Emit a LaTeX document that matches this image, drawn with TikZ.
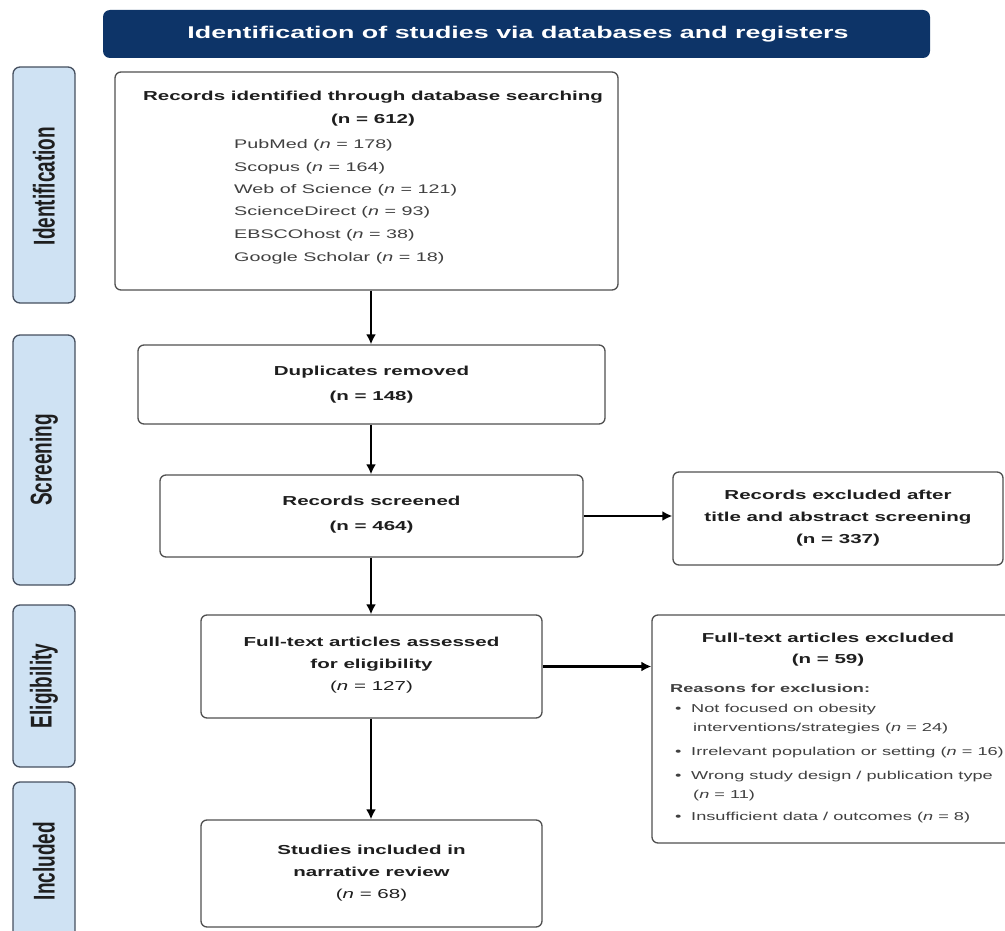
\documentclass[tikz,border=0pt]{standalone}
\usepackage{fontspec}
\setmainfont{Liberation Sans}[FakeStretch=1.58]
\newfontfamily\plainfont{Liberation Sans}
\usetikzlibrary{arrows.meta}
\definecolor{navy}{HTML}{0D3468}
\definecolor{sidefill}{HTML}{CFE2F3}
\definecolor{sideline}{HTML}{46505F}
\definecolor{boxline}{HTML}{505050}
\definecolor{txt}{HTML}{1E1E1E}
\tikzset{
  box/.style={draw=boxline, line width=1.3pt, rounded corners=6pt, fill=white, inner sep=0pt},
  side/.style={draw=sideline, line width=1.3pt, rounded corners=7pt, fill=sidefill, inner sep=0pt},
  sidetext/.style={text=txt, rotate=90, inner sep=0pt, font=\plainfont\bfseries\fontsize{19}{19}\selectfont},
  head/.style={fill=navy, rounded corners=7pt, inner sep=0pt},
  ttl/.style={text=txt, align=center, inner sep=0pt, font=\bfseries\fontsize{13}{25}\selectfont},
  ttlb/.style={text=txt, align=center, inner sep=0pt, font=\bfseries\fontsize{13}{22}\selectfont},
  lst/.style={text=txt!85, anchor=west, inner sep=0pt, font=\fontsize{12.5}{14}\selectfont},
  rsn/.style={text=txt!85, anchor=west, inner sep=0pt, font=\fontsize{11.5}{13}\selectfont},
  arr/.style={line width=2.4pt, -{Latex[length=10pt,width=10pt]}}
}
\newcommand{\sidelab}[1]{\scalebox{1}[1.58]{#1}}
\begin{document}
\begin{tikzpicture}[x=1pt,y=-1pt]
\useasboundingbox (0,0) rectangle (1005,931);
% header
\node[head, minimum width=827pt, minimum height=48pt] (hdr) at (516.5,34) {};
\node[text=white, inner sep=0pt, font=\bfseries\fontsize{17}{17}\selectfont] (hdrt) at (518,34) {Identification of studies via databases and registers};
% side labels
\node[side, minimum width=62pt, minimum height=236pt] (sid) at (44,185) {};
\node[sidetext] (sidt) at (44,186) {\sidelab{Identification}};
\node[side, minimum width=62pt, minimum height=250pt] (ssc) at (44,460) {};
\node[sidetext] (ssct) at (44,460) {\sidelab{Screening}};
\node[side, minimum width=62pt, minimum height=162pt] (sel) at (44,686) {};
\node[sidetext] (selt) at (44,686) {\sidelab{Eligibility}};
\node[side, minimum width=62pt, minimum height=170pt] (sin) at (44,867) {};
\node[sidetext] (sint) at (44,861) {\sidelab{Included}};
% box 1
\node[box, minimum width=503pt, minimum height=218pt] (b1) at (366.5,181) {};
\node[ttl] (b1t) at (373,97) {Records identified through database searching};
\node[ttl] (b1n) at (373,120) {(n = 612)};
\node[lst] (l1) at (234,145) {PubMed (\textit{n} = 178)};
\node[lst] (l2) at (234,168) {Scopus (\textit{n} = 164)};
\node[lst] (l3) at (234,190) {Web of Science (\textit{n} = 121)};
\node[lst] (l4) at (234,212) {ScienceDirect (\textit{n} = 93)};
\node[lst] (l5) at (234,235) {EBSCOhost (\textit{n} = 38)};
\node[lst] (l6) at (234,258) {Google Scholar (\textit{n} = 18)};
% duplicates
\node[box, minimum width=467pt, minimum height=79pt] (dup) at (371.5,384.5) {};
\node[ttl] (dupt) at (371.5,384.5) {Duplicates removed\\(n = 148)};
% screened
\node[box, minimum width=423pt, minimum height=82pt] (scr) at (371.5,516) {};
\node[ttl] (scrt) at (371.5,514.5) {Records screened\\(n = 464)};
% excluded
\node[box, minimum width=330pt, minimum height=93pt] (exc) at (838,518.5) {};
\node[ttlb] (exct) at (838,518) {Records excluded after\\title and abstract screening\\(n = 337)};
% full-text assessed
\node[box, minimum width=341pt, minimum height=103pt] (fta) at (371.5,666.5) {};
\node[ttlb] (ftat) at (371.5,665) {Full-text articles assessed\\for eligibility\\{\mdseries(\textit{n} = 127)}};
% included
\node[box, minimum width=341pt, minimum height=107pt] (inc) at (371.5,873.5) {};
\node[ttlb] (inct) at (371.5,873) {Studies included in\\narrative review\\{\mdseries(\textit{n} = 68)}};
% full-text excluded
\node[box, minimum width=365pt, minimum height=228pt] (fte) at (834.5,729) {};
\node[ttl] (ftet) at (828,638) {Full-text articles excluded};
\node[ttl] (ften) at (828,660) {(n = 59)};
\node[rsn, font=\bfseries\fontsize{11.5}{13}\selectfont] (rh) at (670,688) {Reasons for exclusion:};
\node[rsn] (r1b) at (675,710) {•};
\node[rsn] (r1) at (691,710) {Not focused on obesity};
\node[rsn] (r1c) at (693,729) {interventions/strategies (\textit{n} = 24)};
\node[rsn] (r2b) at (675,753) {•};
\node[rsn] (r2) at (691,753) {Irrelevant population or setting (\textit{n} = 16)};
\node[rsn] (r3b) at (675,777) {•};
\node[rsn] (r3) at (691,777) {Wrong study design / publication type};
\node[rsn] (r3c) at (693,796) {(\textit{n} = 11)};
\node[rsn] (r4b) at (675,818) {•};
\node[rsn] (r4) at (691,818) {Insufficient data / outcomes (\textit{n} = 8)};
% connectors
\coordinate (ax) at (371,0);
\draw[arr] (ax |- b1.south) -- (ax |- dup.north);
\draw[arr] (ax |- dup.south) -- (ax |- scr.north);
\draw[arr] (ax |- scr.south) -- (ax |- fta.north);
\draw[arr] (ax |- fta.south) -- (ax |- inc.north);
\draw[arr] (scr.east) -- (scr.east -| exc.west);
\draw[arr] (fta.east) -- (fta.east -| fte.west);
\end{tikzpicture}
\end{document}
